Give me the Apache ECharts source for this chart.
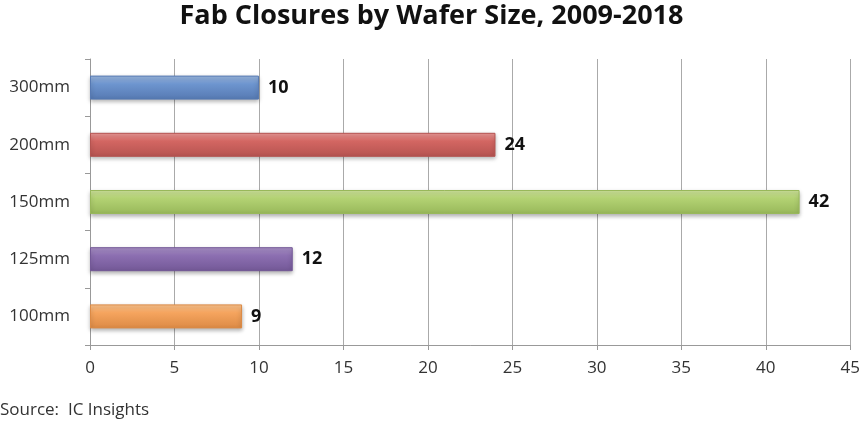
<!DOCTYPE html>
<html>
<head>
<meta charset="utf-8">
<script src="https://cdn.jsdelivr.net/npm/echarts@6/dist/echarts.min.js"></script>
<style>
  html, body { margin: 0; padding: 0; background: #fff; }
  #chart { width: 863px; height: 422px; }
</style>
</head>
<body>
<div id="chart"></div>
<script>
// 数据
const categories = ['100mm', '125mm', '150mm', '200mm', '300mm']
const closures = [9, 12, 42, 24, 10]
// 每根柱子的颜色 [上, 中, 下]
const barColors = [
  ['#fcc58f', '#f5a45e', '#dc8a45'],
  ['#ab93c9', '#8c6fb1', '#735897'],
  ['#cfe49c', '#b3d273', '#98b85a'],
  ['#ec9a98', '#d36662', '#b55350'],
  ['#9cb8e0', '#6d95cf', '#5679b2']
]

const chart = echarts.init(document.getElementById('chart'))

// 渐变
const makeGradient = (c) => new echarts.graphic.LinearGradient(0, 0, 0, 1, [
  {offset: 0, color: c[0]},
  {offset: 0.35, color: c[1]},
  {offset: 1, color: c[2]}
])

const option = {
  animation: false,
  title: {
    text: 'Fab Closures by Wafer Size, 2009-2018',
    left: 'center',
    top: -2,
    textStyle: {
      fontFamily: 'Open Sans',
      fontWeight: 'bold',
      fontSize: 27,
      color: '#111'
    }
  },
  graphic: [{
    type: 'text',
    left: 0,
    top: 402,
    style: {
      text: 'Source:  IC Insights',
      font: '17px "Open Sans"',
      fill: '#333'
    }
  }],
  grid: {
    left: 90,
    right: 10,
    top: 59,
    bottom: 77
  },
  xAxis: {
    type: 'value',
    min: 0,
    max: 45,
    interval: 5,
    axisLine: {show: true, lineStyle: {color: '#999'}},
    axisTick: {show: true, length: 5, lineStyle: {color: '#999'}},
    axisLabel: {color: '#333', fontSize: 17, fontFamily: 'Open Sans', margin: 15},
    splitLine: {show: true, lineStyle: {color: '#aaa'}}
  },
  yAxis: {
    type: 'category',
    data: categories,
    axisLine: {show: true, lineStyle: {color: '#999'}},
    axisTick: {show: true, length: 5, lineStyle: {color: '#999'}},
    axisLabel: {color: '#333', fontSize: 17, fontFamily: 'Open Sans', margin: 20}
  },
  series: [{
    type: 'bar',
    barWidth: 24,
    data: closures.map((v, i) => ({
      value: v,
      itemStyle: {
        color: makeGradient(barColors[i]),
        borderColor: barColors[i][2],
        borderWidth: 1,
        shadowColor: 'rgba(0,0,0,0.3)',
        shadowBlur: 4,
        shadowOffsetY: 2
      }
    })),
    label: {
      show: true,
      position: 'right',
      distance: 9,
      color: '#111',
      fontWeight: 'bold',
      fontSize: 18,
      fontFamily: 'Open Sans'
    }
  }]
}

chart.setOption(option)
</script>
</body>
</html>
